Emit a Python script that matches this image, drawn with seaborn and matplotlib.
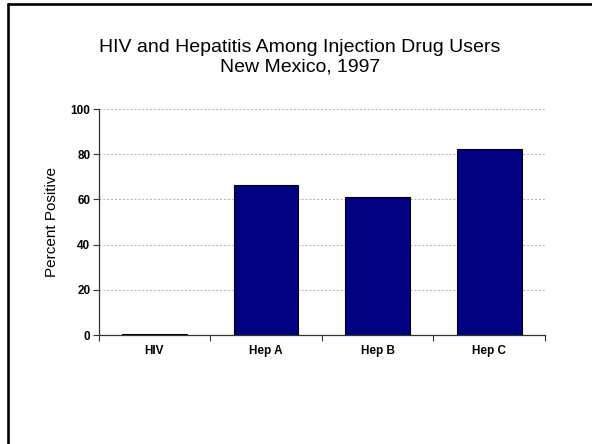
import matplotlib
matplotlib.use("Agg")
import matplotlib.pyplot as plt
from matplotlib.lines import Line2D
import seaborn as sns
import pandas as pd

categories = ["HIV", "Hep A", "Hep B", "Hep C"]
values = [0.6, 66.3, 61.0, 82.4]
yticks = [0, 20, 40, 60, 80, 100]

sns.set_theme(style="white")
plt.rcParams['font.family'] = ['Liberation Sans', 'DejaVu Sans']
plt.rcParams['text.color'] = 'black'
plt.rcParams['axes.labelcolor'] = 'black'
plt.rcParams['xtick.color'] = 'black'
plt.rcParams['ytick.color'] = 'black'

df = pd.DataFrame({"cat": categories, "val": values})

fig = plt.figure(figsize=(5.92, 4.44), dpi=100)
fig.patch.set_facecolor("white")
ax = fig.add_axes([98.7/592, 1-335/444, (545-98.7)/592, (335-109)/444])

sns.barplot(data=df, x="cat", y="val", order=categories, color="#000080",
            width=0.58, edgecolor="black", linewidth=0.8, saturation=1, ax=ax)

ax.set_ylim(0, 100)
ax.set_xlim(-0.5, 3.5)
ax.set_yticks(yticks)
ax.set_yticklabels([str(v) for v in yticks], fontsize=8.5, fontweight="bold")
ax.set_xticks([-0.5, 0.5, 1.5, 2.5, 3.5])
ax.set_xticklabels([])
ax.set_xticks([0, 1, 2, 3], minor=True)
ax.set_xticklabels(categories, minor=True, fontsize=8.5, fontweight="bold")
ax.tick_params(axis="x", which="minor", length=0, pad=7, labelcolor="black")
ax.tick_params(axis="x", which="major", direction="out", length=4, width=0.8, color="#333333", bottom=True)
ax.tick_params(axis="y", direction="out", length=4, width=0.8, color="#333333", left=True, pad=2, labelcolor="black")
ax.set_xlabel("")
ax.set_ylabel("Percent Positive", fontsize=11, color="black")
ax.yaxis.set_label_coords(-0.09, 0.5)

ax.yaxis.grid(True, linestyle=(0, (2, 2)), color="#b0b0b0", linewidth=0.7)
ax.xaxis.grid(False)
ax.set_axisbelow(True)

for s in ["top", "right"]:
    ax.spines[s].set_visible(False)
for s in ["left", "bottom"]:
    ax.spines[s].set_color("#333333")
    ax.spines[s].set_linewidth(0.9)

fig.text(300/592, 1-57.5/444, "HIV and Hepatitis Among Injection Drug Users\nNew Mexico, 1997",
         ha="center", va="center", fontsize=14, multialignment="center", linespacing=1.2,
         color="black")

# slide frame (left and top edges)
fig.add_artist(Line2D([8/592, 8/592], [0, 1-4.5/444], transform=fig.transFigure, color="black", linewidth=1.9))
fig.add_artist(Line2D([8/592, 1], [1-4.5/444, 1-4.5/444], transform=fig.transFigure, color="black", linewidth=1.9))

fig.savefig("out.png", dpi=100)
